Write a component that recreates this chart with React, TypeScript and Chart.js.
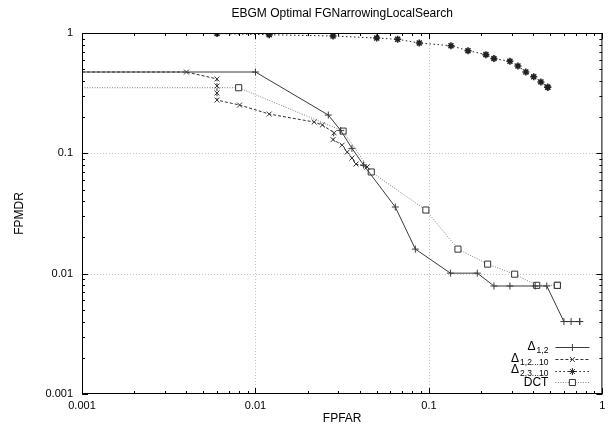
import React, { useEffect, useRef } from 'react';
import { Chart, registerables } from 'chart.js';
import { drawPoint } from 'chart.js/helpers';

Chart.register(...registerables);

const FONT = '"Liberation Sans", Arial, Helvetica, sans-serif';

const TITLE = 'EBGM Optimal FGNarrowingLocalSearch';
const X_TITLE = 'FPFAR';
const Y_TITLE = 'FPMDR';

const DECADES = [0.001, 0.01, 0.1, 1];
const DECADE_LABELS = ['0.001', '0.01', '0.1', '1'];
const MINOR_MULTS = [1, 2, 3, 4, 5, 6, 7, 8, 9];

// Series names (main + subscript)
const NAME_MAIN = ['Δ', 'Δ', 'Δ', 'DCT'];
const NAME_SUB = ['1,2', '1,2...10', '2,3...10', ''];

// Δ1,2
const d12X = [0.001, 0.01, 0.0263, 0.031, 0.036, 0.042, 0.064, 0.0835, 0.133, 0.19, 0.237, 0.293, 0.41, 0.478, 0.6, 0.66, 0.74, 0.74];
const d12Y = [0.474, 0.474, 0.208, 0.155, 0.11, 0.08, 0.0358, 0.016, 0.0101, 0.0101, 0.0079, 0.0079, 0.0079, 0.0079, 0.004, 0.004, 0.004, 0.004];

// Δ1,2...10
const d1210X = [0.001, 0.004, 0.006, 0.006, 0.006, 0.006, 0.0081, 0.012, 0.0218, 0.0243, 0.0284, 0.028, 0.0316, 0.0338, 0.036, 0.038, 0.044, 0.044];
const d1210Y = [0.474, 0.474, 0.415, 0.363, 0.317, 0.277, 0.252, 0.212, 0.182, 0.172, 0.148, 0.13, 0.117, 0.1025, 0.0914, 0.0815, 0.077, 0.077];

// Δ2,3...10
const d2310X = [0.001, 0.006, 0.012, 0.028, 0.05, 0.066, 0.088, 0.134, 0.168, 0.213, 0.237, 0.293, 0.326, 0.362, 0.402, 0.442, 0.484, 0.484];
const d2310Y = [1.0, 0.99, 0.968, 0.944, 0.908, 0.887, 0.826, 0.784, 0.713, 0.661, 0.613, 0.582, 0.532, 0.474, 0.433, 0.392, 0.354, 0.354];

// DCT
const dctX = [0.001, 0.008, 0.032, 0.0465, 0.096, 0.147, 0.218, 0.312, 0.418, 0.55, 0.55];
const dctY = [0.351, 0.351, 0.153, 0.07, 0.0338, 0.016, 0.012, 0.0099, 0.008, 0.008, 0.008];

const SERIES_X = [d12X, d1210X, d2310X, dctX];
const SERIES_Y = [d12Y, d1210Y, d2310Y, dctY];
const SERIES_COLOR = ['#3a3a3a', '#333333', '#222222', '#808080'];
const SERIES_DASH: number[][] = [[], [3, 2], [1.5, 2.5], [1, 1.5]];
const SERIES_POINT = ['cross', 'crossRot', 'star', 'rect'];
const SERIES_RADIUS = [3.5, 3.5, 3.5, 4.3];
const SERIES_PW = [1, 1, 1.6, 1];

const TICK_VALUES: number[] = [];
DECADES.forEach((d, i) => {
  if (i < DECADES.length - 1) MINOR_MULTS.forEach((m) => TICK_VALUES.push(m * d));
  else TICK_VALUES.push(d);
});

const isDecade = (v: number) => DECADES.findIndex((d) => Math.abs(d - v) / d < 1e-6);

const framePlugin = {
  id: 'gnuplotFrame',
  beforeDatasetsDraw(chart: any) {
    const { ctx, chartArea: ca, scales } = chart;
    ctx.save();
    ctx.strokeStyle = '#c4c4c4';
    ctx.lineWidth = 1;
    ctx.setLineDash([1, 2]);
    DECADES.forEach((d) => {
      const px = Math.round(scales.x.getPixelForValue(d)) + 0.5;
      if (px > ca.left + 2 && px < ca.right - 2) {
        ctx.beginPath();
        ctx.moveTo(px, ca.top);
        ctx.lineTo(px, ca.bottom);
        ctx.stroke();
      }
      const py = Math.round(scales.y.getPixelForValue(d)) + 0.5;
      if (py > ca.top + 2 && py < ca.bottom - 2) {
        ctx.beginPath();
        ctx.moveTo(ca.left, py);
        ctx.lineTo(ca.right, py);
        ctx.stroke();
      }
    });
    ctx.restore();
  },
  afterDatasetsDraw(chart: any) {
    const { ctx, chartArea: ca, scales } = chart;
    ctx.save();
    ctx.setLineDash([]);
    ctx.strokeStyle = '#000';
    ctx.lineWidth = 1;
    ctx.strokeRect(ca.left + 0.5, ca.top + 0.5, ca.right - ca.left - 1, ca.bottom - ca.top - 1);
    // inward ticks
    TICK_VALUES.forEach((v) => {
      const len = isDecade(v) >= 0 ? 6 : 3;
      const px = Math.round(scales.x.getPixelForValue(v)) + 0.5;
      ctx.beginPath();
      ctx.moveTo(px, ca.bottom);
      ctx.lineTo(px, ca.bottom - len);
      ctx.moveTo(px, ca.top);
      ctx.lineTo(px, ca.top + len);
      ctx.stroke();
      const py = Math.round(scales.y.getPixelForValue(v)) + 0.5;
      ctx.beginPath();
      ctx.moveTo(ca.left, py);
      ctx.lineTo(ca.left + len, py);
      ctx.moveTo(ca.right, py);
      ctx.lineTo(ca.right - len, py);
      ctx.stroke();
    });
    // title
    ctx.fillStyle = '#000';
    ctx.font = '12px ' + FONT;
    ctx.textAlign = 'center';
    ctx.textBaseline = 'middle';
    ctx.fillText(TITLE, (ca.left + ca.right) / 2, 14);

    // legend
    const textRight = ca.right - 54;
    const sampleL = ca.right - 47;
    const sampleR = ca.right - 13;
    const rowY = [ca.bottom - 47, ca.bottom - 35, ca.bottom - 23.5, ca.bottom - 12];
    for (let i = 0; i < 4; i++) {
      const y = rowY[i];
      ctx.font = '8.5px ' + FONT;
      const subW = NAME_SUB[i] ? ctx.measureText(NAME_SUB[i]).width : 0;
      ctx.font = '12px ' + FONT;
      const mainW = ctx.measureText(NAME_MAIN[i]).width;
      ctx.textAlign = 'left';
      ctx.textBaseline = 'middle';
      ctx.fillStyle = '#000';
      const startX = textRight - subW - mainW - (subW ? 1 : 0);
      ctx.fillText(NAME_MAIN[i], startX, y + (NAME_SUB[i] ? -0.5 : 0.5));
      if (NAME_SUB[i]) {
        ctx.font = '8.5px ' + FONT;
        ctx.fillText(NAME_SUB[i], startX + mainW + 1, y + 3.5);
      }
      ctx.strokeStyle = SERIES_COLOR[i];
      ctx.lineWidth = 1;
      ctx.setLineDash(SERIES_DASH[i]);
      ctx.beginPath();
      ctx.moveTo(sampleL, Math.round(y) + 0.5);
      ctx.lineTo(sampleR, Math.round(y) + 0.5);
      ctx.stroke();
      ctx.setLineDash([]);
      ctx.fillStyle = '#fff';
      ctx.strokeStyle = i === 3 ? '#333' : SERIES_COLOR[i];
      drawPoint(ctx, { pointStyle: SERIES_POINT[i], radius: SERIES_RADIUS[i], rotation: 0, borderWidth: SERIES_PW[i] } as any, (sampleL + sampleR) / 2, Math.round(y) + 0.5);
    }
    ctx.restore();
  },
};

export default function App() {
  const ref = useRef<HTMLCanvasElement | null>(null);
  useEffect(() => {
    if (!ref.current) return;
    Chart.defaults.font.family = FONT;
    const datasets = SERIES_X.map((xs, i) => ({
      label: NAME_MAIN[i] + NAME_SUB[i],
      data: xs.map((x, j) => ({ x, y: SERIES_Y[i][j] })),
      borderColor: SERIES_COLOR[i],
      backgroundColor: '#ffffff',
      borderWidth: 1,
      borderDash: SERIES_DASH[i],
      pointStyle: SERIES_POINT[i],
      pointRadius: (c: any) => (c.dataIndex === 0 ? 0 : SERIES_RADIUS[i]),
      pointBorderColor: i === 3 ? '#333' : SERIES_COLOR[i],
      pointBackgroundColor: '#ffffff',
      pointBorderWidth: SERIES_PW[i],
      tension: 0,
      fill: false,
    }));
    const axisCommon = (title: string) => ({
      type: 'logarithmic' as const,
      min: 0.001,
      max: 1,
      grid: { display: false, drawTicks: false },
      border: { display: false },
      afterBuildTicks: (scale: any) => {
        scale.ticks = TICK_VALUES.map((v) => ({ value: v }));
      },
      ticks: {
        autoSkip: false,
        maxRotation: 0,
        color: '#000',
        font: { size: 11, family: FONT },
        callback: (value: any) => {
          const k = isDecade(Number(value));
          return k >= 0 ? DECADE_LABELS[k] : '';
        },
      },
      title: { display: true, text: title, color: '#000', font: { size: 12, family: FONT } },
    });
    const xAxis: any = axisCommon(X_TITLE);
    xAxis.position = 'bottom';
    xAxis.ticks.padding = 5;
    xAxis.title.padding = { top: 0, bottom: 3 };
    xAxis.afterFit = (s: any) => { s.height = 35; s.paddingLeft = 0; s.paddingRight = 0; };
    const yAxis: any = axisCommon(Y_TITLE);
    yAxis.position = 'left';
    yAxis.ticks.padding = 9;
    yAxis.title.padding = { top: 12.8, bottom: 0 };
    yAxis.afterFit = (s: any) => { s.width = 82; s.paddingTop = 0; s.paddingBottom = 0; };

    const chart = new Chart(ref.current, {
      type: 'line',
      data: { datasets },
      options: {
        responsive: false,
        animation: false,
        devicePixelRatio: 1,
        layout: { padding: { top: 33, right: 4, left: 0, bottom: 0 } },
        plugins: { legend: { display: false }, tooltip: { enabled: false }, title: { display: false } },
        scales: { x: xAxis, y: yAxis },
      },
      plugins: [framePlugin],
    });
    return () => chart.destroy();
  }, []);
  return (
    <div style={{ position: 'absolute', left: 0, top: 0, width: 608, height: 429, background: '#fff' }}>
      <canvas ref={ref} width={608} height={429} />
    </div>
  );
}
